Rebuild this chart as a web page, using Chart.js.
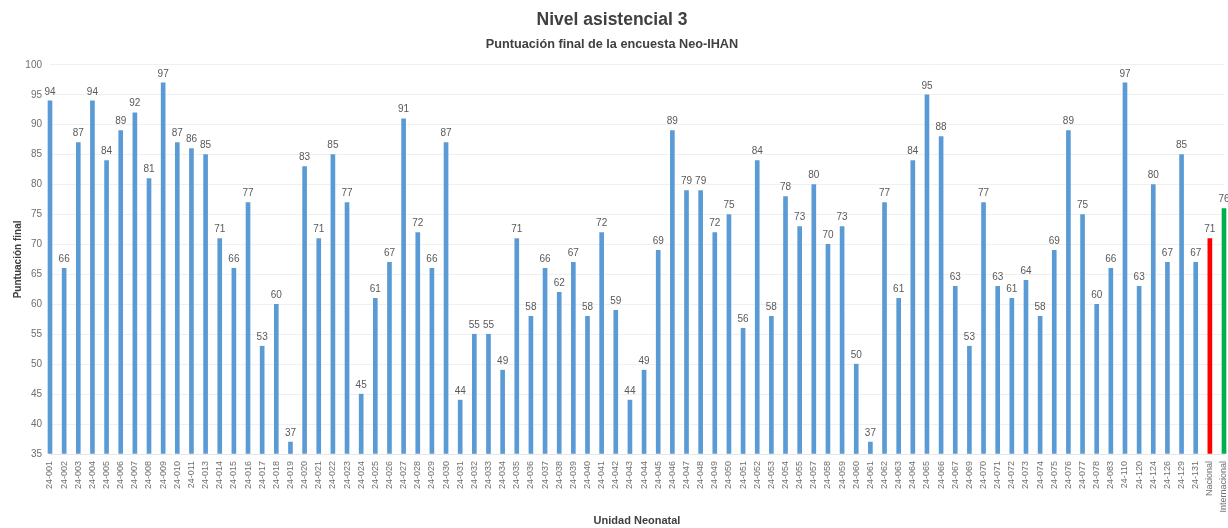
<!DOCTYPE html>
<html>
<head>
<meta charset="utf-8">
<script src="https://cdn.jsdelivr.net/npm/chart.js@4"></script>
<style>
  html, body { margin: 0; padding: 0; background: #fff; }
  #wrap { width: 1228px; height: 528px; }
</style>
</head>
<body>
<div id="wrap"><canvas id="chart" width="1228" height="528"></canvas></div>
<script>
// unidades neonatales (eje X)
const units = [
  '24-001', '24-002', '24-003', '24-004', '24-005', '24-006', '24-007', '24-008', '24-009', '24-010',
  '24-011', '24-013', '24-014', '24-015', '24-016', '24-017', '24-018', '24-019', '24-020', '24-021',
  '24-022', '24-023', '24-024', '24-025', '24-026', '24-027', '24-028', '24-029', '24-030', '24-031',
  '24-032', '24-033', '24-034', '24-035', '24-036', '24-037', '24-038', '24-039', '24-040', '24-041',
  '24-042', '24-043', '24-044', '24-045', '24-046', '24-047', '24-048', '24-049', '24-050', '24-051',
  '24-052', '24-053', '24-054', '24-055', '24-057', '24-058', '24-059', '24-060', '24-061', '24-062',
  '24-063', '24-064', '24-065', '24-066', '24-067', '24-069', '24-070', '24-071', '24-072', '24-073',
  '24-074', '24-075', '24-076', '24-077', '24-078', '24-083', '24-110', '24-120', '24-124', '24-126',
  '24-129', '24-131', 'Nacional', 'Internacional'
];

// puntuación final de cada unidad
const scores = [
  94, 66, 87, 94, 84, 89, 92, 81, 97, 87,
  86, 85, 71, 66, 77, 53, 60, 37, 83, 71,
  85, 77, 45, 61, 67, 91, 72, 66, 87, 44,
  55, 55, 49, 71, 58, 66, 62, 67, 58, 72,
  59, 44, 49, 69, 89, 79, 79, 72, 75, 56,
  84, 58, 78, 73, 80, 70, 73, 50, 37, 77,
  61, 84, 95, 88, 63, 53, 77, 63, 61, 64,
  58, 69, 89, 75, 60, 66, 97, 63, 80, 67,
  85, 67, 71, 76
];

const yTicks = [35, 40, 45, 50, 55, 60, 65, 70, 75, 80, 85, 90, 95, 100];

const FONT = '"Liberation Sans", Arial, sans-serif';

// colores: azul para unidades, rojo nacional, verde internacional
const barColors = units.map(u => {
  if (u === 'Nacional') return '#FF0000';
  if (u === 'Internacional') return '#00B050';
  return '#5B9BD5';
});

// etiquetas de valor encima de cada barra
const valueLabels = {
  id: 'valueLabels',
  afterDatasetsDraw(chart) {
    const ctx = chart.ctx;
    const meta = chart.getDatasetMeta(0);
    ctx.save();
    ctx.font = '10px ' + FONT;
    ctx.fillStyle = '#595959';
    ctx.textAlign = 'center';
    ctx.textBaseline = 'bottom';
    meta.data.forEach((bar, i) => {
      ctx.fillText(scores[i], bar.x, bar.y - 4);
    });
    ctx.restore();
  }
};

new Chart(document.getElementById('chart'), {
  type: 'bar',
  data: {
    labels: units,
    datasets: [{
      data: scores,
      backgroundColor: barColors,
      barThickness: 4,
      base: 35,
      clip: false
    }]
  },
  options: {
    responsive: false,
    animation: false,
    layout: { padding: { top: 0, left: 0, right: 4, bottom: 0 } },
    plugins: {
      legend: { display: false },
      tooltip: { enabled: false },
      title: {
        display: true,
        text: 'Nivel asistencial 3',
        color: '#404040',
        font: { family: FONT, size: 17.5, weight: 'bold', lineHeight: 1.2 },
        padding: { top: 10, bottom: 0 }
      },
      subtitle: {
        display: true,
        text: 'Puntuación final de la encuesta Neo-IHAN',
        color: '#404040',
        font: { family: FONT, size: 12.7, weight: 'bold', lineHeight: 1.2 },
        padding: { top: 6, bottom: 12.6 }
      }
    },
    scales: {
      x: {
        type: 'category',
        offset: false,
        grid: { display: false, drawTicks: false },
        border: { display: true, color: '#E6E6E6' },
        ticks: {
          autoSkip: false,
          maxRotation: 90,
          minRotation: 90,
          padding: 7,
          color: '#6E6E6E',
          font: { family: FONT, size: 9 }
        },
        title: {
          display: true,
          text: 'Unidad Neonatal',
          color: '#404040',
          font: { family: FONT, size: 11, weight: 'bold', lineHeight: 1.2 },
          padding: { top: 0, bottom: 0 }
        },
        afterFit(scale) {
          scale.height = 74;
          scale.paddingLeft = 0;
          scale.paddingRight = 0;
        }
      },
      y: {
        min: 35,
        max: 100,
        grid: { color: '#F0F0F0', drawTicks: false },
        border: { display: false },
        afterBuildTicks(scale) {
          scale.ticks = yTicks.map(v => ({ value: v }));
        },
        ticks: {
          padding: 8,
          color: '#6E6E6E',
          font: { family: FONT, size: 10 }
        },
        title: {
          display: true,
          text: 'Puntuación final',
          color: '#404040',
          font: { family: FONT, size: 10, weight: 'bold', lineHeight: 1.2 },
          padding: { top: 12, bottom: 0 }
        },
        afterFit(scale) {
          scale.width = 50;
        }
      }
    }
  },
  plugins: [valueLabels]
});
</script>
</body>
</html>
